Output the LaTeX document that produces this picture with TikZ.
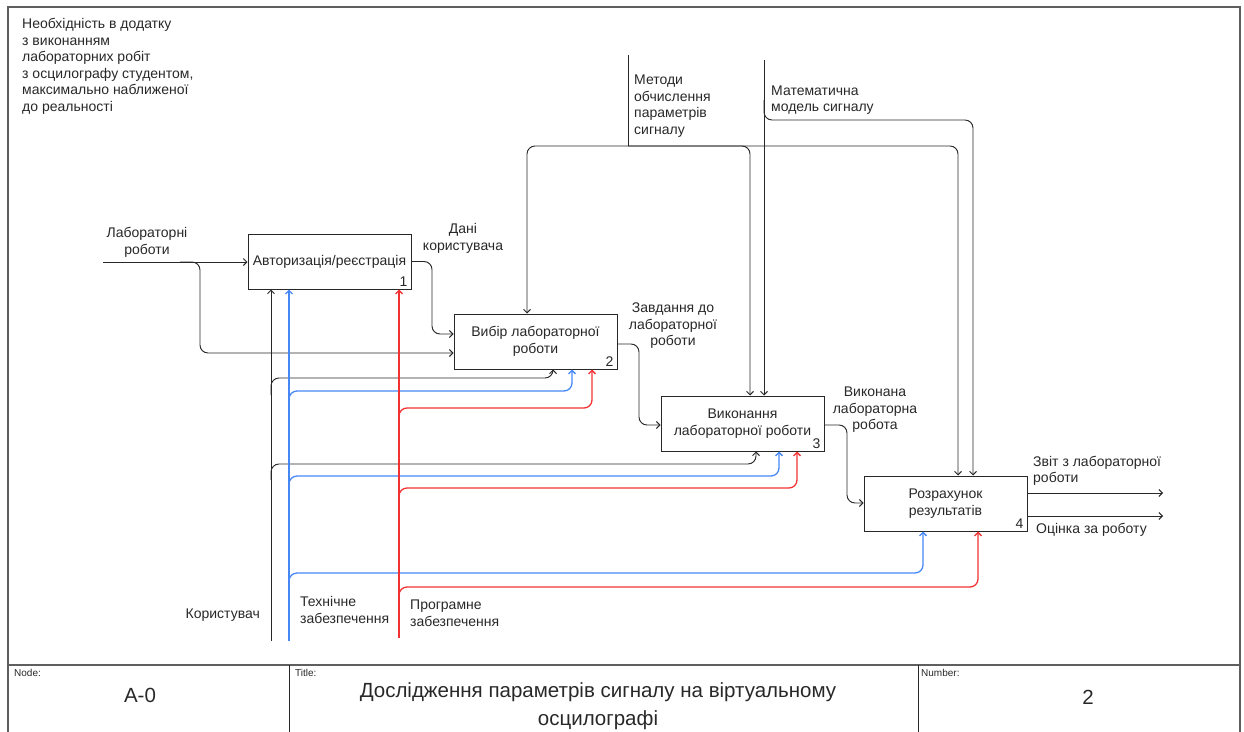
\documentclass[tikz,border=0pt]{standalone}
\usepackage{fontspec}
\setmainfont{Liberation Sans}
\usetikzlibrary{arrows.meta}
\definecolor{ink}{RGB}{40,40,40}
\definecolor{framegray}{RGB}{95,95,95}
\definecolor{techblue}{RGB}{70,135,245}
\definecolor{progred}{RGB}{242,50,50}

\begin{document}
\begin{tikzpicture}[x=1pt,y=-1pt,
  every node/.style={font=\fontsize{14}{16.5}\selectfont, inner sep=0pt, text=ink},
  func/.style={draw=ink, line width=1pt, minimum width=163pt, minimum height=55pt,
    align=center, fill=white},
  num/.style={anchor=south east, inner xsep=4pt, inner ysep=3pt},
  flow/.style={draw=ink, line width=0.95pt, rounded corners=8pt,
    -{Straight Barb[length=3.5pt,width=7pt]}},
  bare/.style={draw=ink, line width=0.95pt},
  tech/.style={flow, draw=techblue, line width=1.3pt},
  prog/.style={flow, draw=progred, line width=1.3pt},
  lbl/.style={align=center},
  lbll/.style={align=left, anchor=west},
  frameline/.style={draw=framegray, line width=1.4pt},
  cellline/.style={draw=ink, line width=0.8pt},
  cellhead/.style={anchor=west, font=\fontsize{10}{12}\selectfont},
  cellbig/.style={font=\fontsize{20.5}{28}\selectfont, align=center}
]
\useasboundingbox (0,0) rectangle (1244,731);

% frame and title block
\draw[frameline] (8,732) -- (8,7) -- (1240,7) -- (1240,732);
\draw[frameline] (8,665) -- (1240,665);
\draw[cellline] (289,665) -- (289,732);
\draw[cellline] (918,665) -- (918,732);
\node[cellhead] (hNode) at (14,673) {Node:};
\node[cellhead] (hTitle) at (295,673) {Title:};
\node[cellhead] (hNum) at (921,673) {Number:};
\node[cellbig] (vNode) at (140,695) {A-0};
\node[cellbig] (vTitle) at (598,706) {Дослідження параметрів сигналу на віртуальному\\осцилографі};
\node[cellbig] (vNum) at (1088,697) {2};

% function blocks
\node[func] (b1) at (329.5,261.5) {Авторизація/реєстрація};
\node[func] (b2) at (535.5,341.5) {Вибір лабораторної\\роботи};
\node[func] (b3) at (742.5,423.5) {Виконання\\лабораторної роботи};
\node[func] (b4) at (945.5,503.5) {Розрахунок\\результатів};
\node[num] at (b1.south east) {1};
\node[num] at (b2.south east) {2};
\node[num] at (b3.south east) {3};
\node[num] at (b4.south east) {4};

% free ends
\coordinate (lIn) at (103,262);
\coordinate (mTop) at (628,55);
\coordinate (mJ) at (628,146);
\coordinate (mdTop) at (764,60);
\coordinate (uBot) at (271,641);
\coordinate (tBot) at (289,641);
\coordinate (pBot) at (399,638);
\coordinate (o1End) at (1163,493);
\coordinate (o2End) at (1163,516);

% controls
\draw[bare] (mTop) -- (mJ);
\draw[flow] (mJ) -| (527,0 |- b2.north);
\draw[flow] (mJ) -| (750,0 |- b3.north);
\draw[flow] (mJ) -| (958,0 |- b4.north);
\draw[flow] (mdTop) -- (mdTop |- b3.north);
\draw[flow] (mdTop |- 0,100) |- (973,120) -- (973,0 |- b4.north);

% inputs and outputs
\draw[flow] (lIn) -- (b1.west |- lIn);
\draw[flow] (180,262) -- (200,262) -- (200,353) -- (b2.west |- 0,353);
\draw[flow] (b1.east) -- (432,261.5) -- (432,334) -- (b2.west |- 0,334);
\draw[flow] (b2.east |- 0,344) -- (639,344) -- (639,425) -- (b3.west |- 0,425);
\draw[flow] (b3.east |- 0,425) -- (847,425) -- (847,503) -- (b4.west |- 0,503);
\draw[flow] (b4.east |- o1End) -- (o1End);
\draw[flow] (b4.east |- o2End) -- (o2End);

% mechanisms: user
\draw[flow] (uBot) -- (uBot |- b1.south);
\draw[flow] (uBot |- 0,395) |- (553,378) -- (553,0 |- b2.south);
\draw[flow] (uBot |- 0,480) |- (756,464) -- (756,0 |- b3.south);
% mechanisms: hardware
\draw[tech] (tBot) -- (tBot |- b1.south);
\draw[tech] (tBot |- 0,410) |- (572,391) -- (572,0 |- b2.south);
\draw[tech] (tBot |- 0,495) |- (779,476) -- (779,0 |- b3.south);
\draw[tech] (tBot |- 0,590) |- (923,573) -- (923,0 |- b4.south);
% mechanisms: software
\draw[prog] (pBot) -- (pBot |- b1.south);
\draw[prog] (pBot |- 0,425) |- (592,408) -- (592,0 |- b2.south);
\draw[prog] (pBot |- 0,505) |- (797,488) -- (797,0 |- b3.south);
\draw[prog] (pBot |- 0,605) |- (978,587) -- (978,0 |- b4.south);

% arrow labels
\node[lbll] (tNeed) at (22,66.5) {Необхідність в додатку\\з виконанням\\лабораторних робіт\\з осцилографу студентом,\\максимально наближеної\\до реальності};
\node[lbl] (tLab) at (147,242.5) {Лабораторні\\роботи};
\node[lbl] (tData) at (463,238.5) {Дані\\користувача};
\node[lbl] (tTask) at (673,326) {Завдання до\\лабораторної\\роботи};
\node[lbll] (tMeth) at (634,106) {Методи\\обчислення\\параметрів\\сигналу};
\node[lbll] (tModel) at (771,100) {Математична\\модель сигналу};
\node[lbl] (tDone) at (875,410) {Виконана\\лабораторна\\робота};
\node[lbll] (tRep) at (1033,471) {Звіт з лабораторної\\роботи};
\node[lbll] (tMark) at (1036,530) {Оцінка за роботу};
\node[anchor=east] (tUser) at (260,615) {Користувач};
\node[lbll] (tHw) at (300,610) {Технічне\\забезпечення};
\node[lbll] (tSw) at (410,613) {Програмне\\забезпечення};
\end{tikzpicture}
\end{document}
